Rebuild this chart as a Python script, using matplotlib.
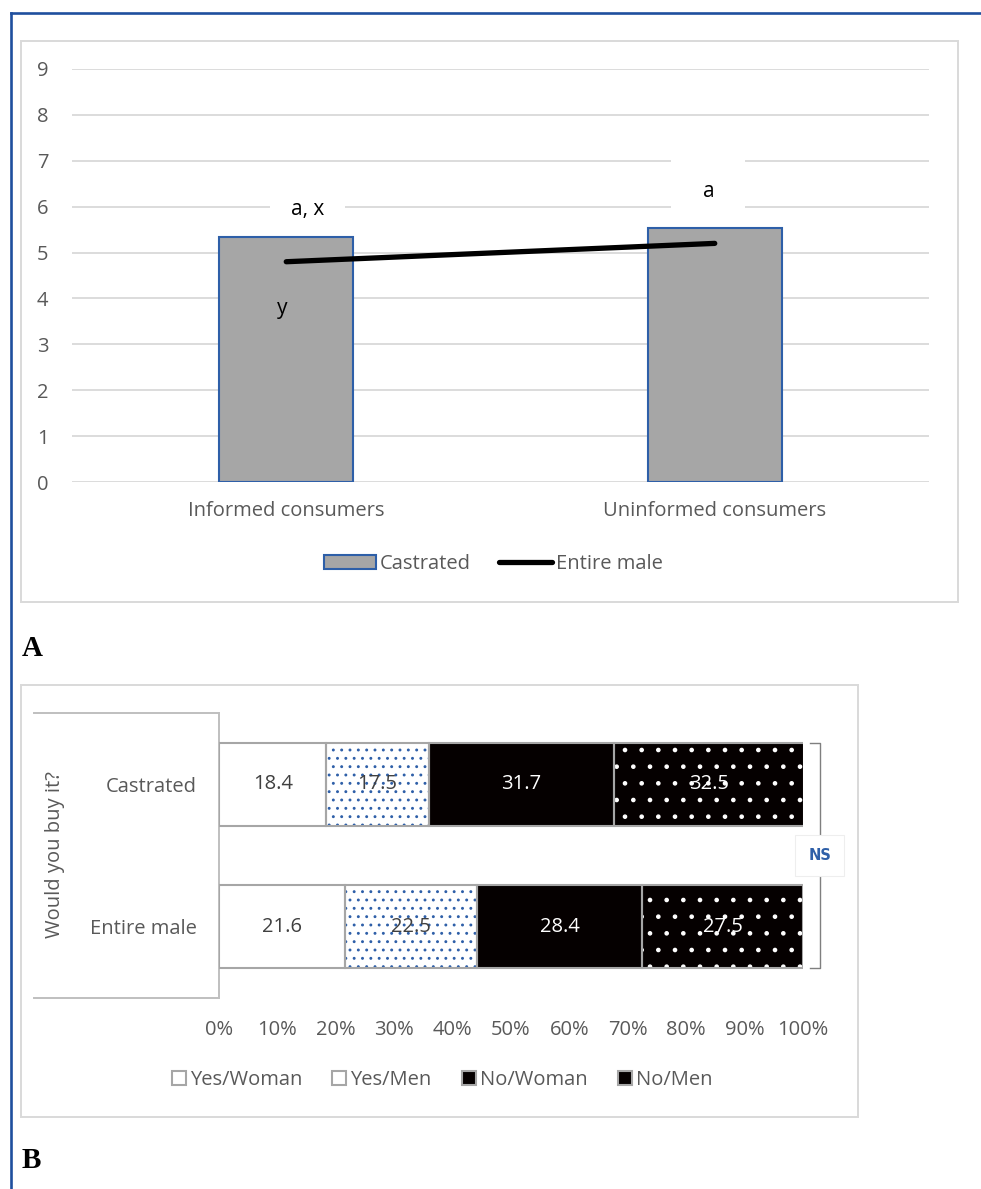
import matplotlib
matplotlib.use("Agg")
import matplotlib.pyplot as plt
from matplotlib.patches import Rectangle, Patch
from matplotlib.lines import Line2D

plt.rcParams["font.family"] = ["Open Sans", "DejaVu Sans"]
plt.rcParams["hatch.linewidth"] = 0.9

# ---- panel A data ----
groups_a = ["Informed consumers", "Uninformed consumers"]
castrated_a = [5.33, 5.53]
entire_a = [4.8, 5.2]
# significance letters: (text, x offset from group, y value)
letters_a = [("a, x", 0.05, 5.93), ("a", -0.015, 6.34), ("y", -0.01, 3.79)]

# ---- panel B data ----
products = ["Entire male", "Castrated"]  # bottom to top
answers = ["Yes/Woman", "Yes/Men", "No/Woman", "No/Men"]
yes_woman = [21.6, 18.4]
yes_men = [22.5, 17.5]
no_woman = [28.4, 31.7]
no_men = [27.5, 32.5]

W, H = 981, 1189
GRAY_TXT = "#595959"
BLUE = "#2e5fa8"
FRAME = "#d9d9d9"


def fx(x):
    return x / W


def fy(y):
    return 1 - y / H


fig = plt.figure(figsize=(W / 100, H / 100), dpi=100)

# outer blue border (top + left)
fig.add_artist(Line2D([fx(11), fx(11)], [fy(13), 0], color="#1f4f9e", lw=1.9))
fig.add_artist(Line2D([fx(11), 1], [fy(13), fy(13)], color="#1f4f9e", lw=1.9))

# panel frames
fig.add_artist(Rectangle((fx(21), fy(602)), fx(958) - fx(21), fy(41) - fy(602),
                         fill=False, ec=FRAME, lw=1.4))
fig.add_artist(Rectangle((fx(21), fy(1117)), fx(858) - fx(21), fy(685) - fy(1117),
                         fill=False, ec=FRAME, lw=1.4))

# ================= panel A =================
ax = fig.add_axes([fx(72), fy(482), fx(929) - fx(72), fy(69) - fy(482)])
xs = list(range(len(groups_a)))
bars = ax.bar(xs, castrated_a, width=0.313, color="#a6a6a6", edgecolor=BLUE,
              lw=1.5, label="Castrated", zorder=2)
line, = ax.plot(xs, entire_a, color="black", lw=3.8, solid_capstyle="round",
                label="Entire male", zorder=3)
ax.set_xlim(-0.5, 1.5)
ax.set_ylim(0, 9)
ax.set_yticks(range(10))
ax.set_xticks(xs)
ax.set_xticklabels(groups_a)
ax.yaxis.grid(True, color="#d9d9d9", lw=1.3)
ax.set_axisbelow(True)
for s in ax.spines.values():
    s.set_visible(False)
ax.tick_params(axis="y", length=0, pad=17, labelsize=14.5, labelcolor=GRAY_TXT)
ax.tick_params(axis="x", length=0, pad=14, labelsize=14.5, labelcolor=GRAY_TXT)

for (txt, dx, yv), gx in zip(letters_a, [0, 1, 0]):
    if txt == "y":
        ax.text(gx + dx, yv, txt, ha="center", va="center", fontsize=15, zorder=4)
    else:
        pad = 1.0 if txt != "a" else 1.5
        ax.text(gx + dx, yv, txt, ha="center", va="center", fontsize=15, zorder=1,
                bbox=dict(boxstyle="square,pad=%s" % pad, fc="white", ec="none"))

ax.legend([bars, line], ["Castrated", "Entire male"], loc="center",
          bbox_to_anchor=(fx(493), fy(564)), bbox_transform=fig.transFigure,
          ncol=2, frameon=False, fontsize=14.5, labelcolor=GRAY_TXT,
          handlelength=2.6, handleheight=0.72, handletextpad=0.2, columnspacing=1.4)

fig.text(fx(22), fy(648), "A", fontsize=21, fontweight="bold",
         family="Liberation Serif", ha="left", va="center")

# ================= panel B =================
bx = fig.add_axes([fx(219), fy(998), fx(803) - fx(219), fy(713) - fy(998)])
series = [yes_woman, yes_men, no_woman, no_men]
fills = ["white", "white", "#050000", "#050000"]
hatch = [None, "..", None, "."]
hatch_col = ["#a6a6a6", BLUE, "#050000", "white"]
txt_col = ["#404040", "#404040", "white", "white"]
ys = list(range(len(products)))
left = [0.0] * len(products)
for vals, fc, ht, hc, tc, name in zip(series, fills, hatch, hatch_col, txt_col, answers):
    bx.barh(ys, vals, left=left, height=0.58, color=fc, hatch=ht, edgecolor=hc, lw=0, zorder=2)
    bx.barh(ys, vals, left=left, height=0.58, fill=False, edgecolor="#a6a6a6", lw=1.5, zorder=3)
    for y, v, l in zip(ys, vals, left):
        bx.text(l + v / 2, y, "%.1f" % v, ha="center", va="center", fontsize=14.5,
                color=tc, zorder=4)
    left = [l + v for l, v in zip(left, vals)]

bx.set_xlim(0, 100)
bx.set_ylim(-0.5, 1.5)
bx.set_xticks(range(0, 101, 10))
bx.set_xticklabels(["%d%%" % t for t in range(0, 101, 10)])
bx.set_yticks(ys)
bx.set_yticklabels(products)
for k in ["top", "right", "bottom"]:
    bx.spines[k].set_visible(False)
bx.spines["left"].set_color("#bfbfbf")
bx.spines["left"].set_linewidth(1.4)
bx.tick_params(axis="x", length=0, pad=16, labelsize=14.5, labelcolor=GRAY_TXT)
bx.tick_params(axis="y", length=0, pad=16, labelsize=14.5, labelcolor=GRAY_TXT)

# category box lines
fig.add_artist(Line2D([fx(34), fx(219)], [fy(713), fy(713)], color="#bfbfbf", lw=1.4))
fig.add_artist(Line2D([fx(34), fx(219)], [fy(998), fy(998)], color="#bfbfbf", lw=1.4))
fig.text(fx(55), fy(855), "Would you buy it?", rotation=90, ha="center", va="center",
         fontsize=14.5, color=GRAY_TXT)

# NS bracket
bx.plot([101.2, 102.9, 102.9, 101.2], [1.29, 1.29, -0.29, -0.29], color="#7f7f7f",
        lw=1.0, clip_on=False)
bx.text(102.9, 0.5, "NS", ha="center", va="center", fontsize=10.5, fontweight="bold",
        color=BLUE, family="DejaVu Sans", clip_on=False,
        bbox=dict(boxstyle="square,pad=0.9", fc="white", ec="#eeeeee", lw=0.8))

handles = [Patch(facecolor=fc, edgecolor="#a6a6a6", lw=1.5) for fc in fills]
fig.legend(handles, answers, loc="center", bbox_to_anchor=(fx(442), fy(1080)), ncol=4,
           frameon=False, fontsize=14.5, labelcolor=GRAY_TXT, handlelength=0.7,
           handleheight=0.7, handletextpad=0.2, columnspacing=1.5)

fig.text(fx(22), fy(1160), "B", fontsize=21, fontweight="bold",
         family="Liberation Serif", ha="left", va="center")

fig.savefig("out.png", dpi=100)
